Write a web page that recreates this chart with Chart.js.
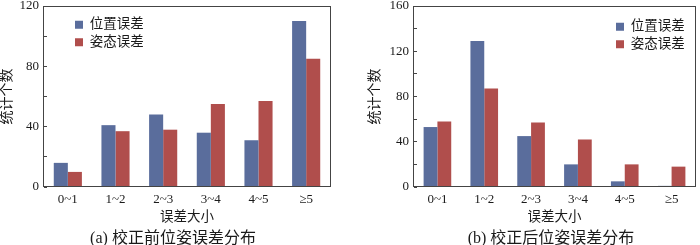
<!DOCTYPE html>
<html>
<head>
<meta charset="utf-8">
<script src="https://cdn.jsdelivr.net/npm/chart.js@4"></script>
<style>
    body { margin: 0; background: #fff; }
    .panel { position: absolute; top: 0; width: 350px; height: 245px; }
</style>
</head>
<body>
<div class="panel" style="left:0"><canvas id="chart-a" width="350" height="245"></canvas></div>
<div class="panel" style="left:350px"><canvas id="chart-b" width="350" height="245"></canvas></div>
<script>
const categories = ['0~1', '1~2', '2~3', '3~4', '4~5', '≥5'];
const seriesNames = ['位置误差', '姿态误差'];

// (a) before correction
const posBefore = [16, 41, 48, 36, 31, 110];
const attBefore = [10, 37, 38, 55, 57, 85];
// (b) after correction
const posAfter = [53, 129, 45, 20, 5, 1];
const attAfter = [58, 87, 57, 42, 20, 18];

const yMaxBefore = 120;
const yMaxAfter = 160;
const yStep = 20;
const yLabelStep = 40;

const FONT = "'Liberation Serif', 'Noto Sans CJK SC', serif";
const TEXT = '#1a1a1a';
const BLUE = '#5a6d9c';
const RED = '#b04e4c';

// box around the plot area
const frame = {
    id: 'frame',
    afterDatasetsDraw(chart) {
        const { ctx, chartArea: a } = chart;
        ctx.save();
        ctx.strokeStyle = '#444';
        ctx.lineWidth = 1;
        ctx.strokeRect(Math.round(a.left) - 0.5, Math.round(a.top) + 0.5,
            Math.round(a.right - a.left) + 1, Math.round(a.bottom - a.top) - 1);
        ctx.restore();
    }
};

// move the legend inside the plot
const legendPos = {
    id: 'legendPos',
    afterLayout(chart, args, opts) {
        const lg = chart.legend;
        if (!lg) return;
        const pad = lg.options.labels.padding;
        const w = lg.width, h = lg.height;
        lg.left = chart.chartArea.left + opts.x - pad;
        lg.top = chart.chartArea.top + opts.y - pad;
        lg.right = lg.left + w;
        lg.bottom = lg.top + h;
    }
};

const caption = {
    id: 'caption',
    afterDraw(chart, args, opts) {
        const ctx = chart.ctx;
        ctx.save();
        ctx.font = '16px ' + FONT;
        ctx.fillStyle = TEXT;
        ctx.textAlign = 'center';
        ctx.textBaseline = 'middle';
        ctx.fillText(opts.text, opts.x, opts.y);
        ctx.restore();
    }
};

function makeChart(id, pos, att, yMax, cfg) {
    const ctx = document.getElementById(id).getContext('2d');
    return new Chart(ctx, {
        type: 'bar',
        data: {
            labels: categories,
            datasets: [
                { label: seriesNames[0], data: pos, backgroundColor: BLUE, borderWidth: 0 },
                { label: seriesNames[1], data: att, backgroundColor: RED, borderWidth: 0 }
            ]
        },
        options: {
            responsive: false,
            animation: false,
            categoryPercentage: 0.59,
            barPercentage: 1,
            layout: { padding: { top: 6, right: cfg.padRight, left: 0, bottom: 0 } },
            scales: {
                x: {
                    grid: { display: false, drawTicks: false },
                    border: { display: false },
                    ticks: { padding: 5, color: TEXT, font: { family: FONT, size: 13 }, maxRotation: 0, autoSkip: false },
                    title: {
                        display: true, text: '误差大小', color: TEXT,
                        font: { family: FONT, size: 13.5 }, padding: { top: 0, bottom: 19 }
                    },
                    afterFit(s) { s.height = 58; s.paddingLeft = 0; s.paddingRight = 0; }
                },
                y: {
                    min: 0,
                    max: yMax,
                    grid: { drawOnChartArea: false, drawTicks: true, tickLength: -3, color: '#444', lineWidth: 1 },
                    border: { display: false },
                    ticks: {
                        stepSize: yStep,
                        padding: 8,
                        color: TEXT,
                        font: { family: FONT, size: 13 },
                        callback: v => (v % yLabelStep === 0 ? v : '')
                    },
                    title: {
                        display: true, text: '统计个数', color: TEXT,
                        font: { family: FONT, size: 14, lineHeight: 1 }, padding: { top: cfg.yTitlePad, bottom: 0 }
                    },
                    afterFit(s) { s.width = cfg.yWidth; s.paddingTop = 0; s.paddingBottom = 0; }
                }
            },
            plugins: {
                legend: {
                    position: 'chartArea',
                    align: 'start',
                    labels: {
                        boxWidth: 8, boxHeight: 8, padding: 4, color: TEXT,
                        font: { family: FONT, size: 13.5 }
                    }
                },
                tooltip: { enabled: false },
                legendPos: { x: cfg.legendX, y: cfg.legendY },
                caption: { text: cfg.caption, x: cfg.capX, y: 238.5 }
            }
        },
        plugins: [frame, legendPos, caption]
    });
}

makeChart('chart-a', posBefore, attBefore, yMaxBefore, {
    padRight: 20, yWidth: 44, yTitlePad: 0, legendX: 31, legendY: 12,
    caption: '(a) 校正前位姿误差分布', capX: 173
});
makeChart('chart-b', posAfter, attAfter, yMaxAfter, {
    padRight: 5, yWidth: 64, yTitlePad: 18, legendX: 202, legendY: 14,
    caption: '(b) 校正后位姿误差分布', capX: 201
});
</script>
</body>
</html>
